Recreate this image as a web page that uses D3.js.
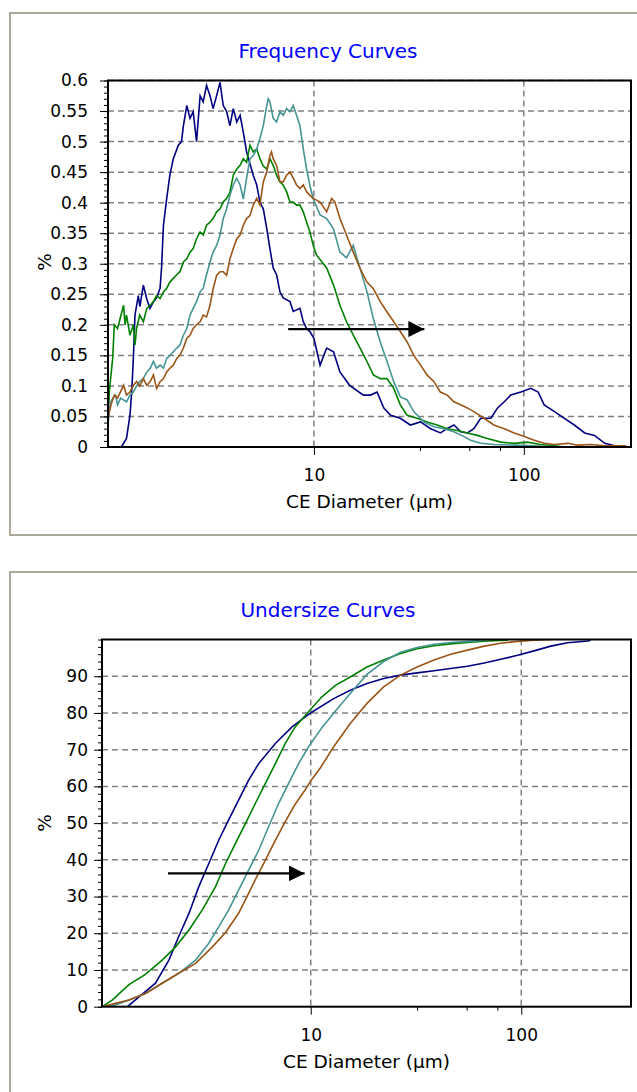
<!doctype html>
<html lang="en">
<head>
  <title>Frequency and Undersize Curves</title>
  <script src="https://d3js.org/d3.v7.min.js"></script>
  <style>
    body {
      margin: 0px;
      background: #ffffff;
    }

    text {
      font-family: "DejaVu Sans", sans-serif;
      fill: #000000;
    }

    .title {
      fill: #0000ff;
      font-size: 20px;
    }

    .axis-label {
      font-size: 18.5px;
    }

    .tick text {
      font-size: 17px;
      font-family: "DejaVu Sans", sans-serif;
    }

    .grid line {
      stroke: #808080;
      stroke-width: 1.5;
      stroke-dasharray: 6,4;
    }
  </style>
</head>
<body>
    <div id="container"></div>

    <script>
        // values, [diameter in um, %]
        var freqNavy = [[1.21,0],[1.28,0.014],[1.33,0.052],[1.355,0.09],[1.38,0.145],[1.405,0.216],[1.457,0.248],[1.483,0.23],[1.54,0.265],[1.60,0.242],[1.656,0.227],[1.72,0.238],[1.78,0.244],[1.85,0.26],[1.88,0.293],[1.92,0.363],[1.99,0.407],[2.06,0.445],[2.14,0.472],[2.26,0.494],[2.34,0.5],[2.39,0.526],[2.48,0.559],[2.57,0.538],[2.66,0.549],[2.76,0.5],[2.87,0.575],[2.97,0.565],[3.08,0.592],[3.20,0.575],[3.31,0.554],[3.44,0.575],[3.57,0.597],[3.70,0.559],[3.84,0.549],[3.98,0.526],[4.13,0.554],[4.29,0.532],[4.45,0.543],[4.61,0.515],[4.78,0.483],[5.14,0.445],[5.34,0.429],[5.53,0.401],[5.74,0.39],[5.96,0.358],[6.17,0.325],[6.40,0.293],[6.64,0.282],[6.89,0.254],[7.14,0.244],[7.69,0.238],[7.97,0.222],[8.58,0.227],[8.90,0.205],[9.23,0.194],[9.57,0.189],[10.0,0.178],[10.7,0.134],[11.5,0.162],[12.4,0.156],[13.3,0.123],[14.8,0.101],[17.2,0.085],[18.6,0.085],[20,0.09],[21.5,0.064],[23.2,0.052],[25.8,0.047],[28.8,0.036],[32.2,0.041],[36,0.03],[40.1,0.023],[43,0.03],[46.5,0.036],[50,0.025],[53.8,0.023],[57.8,0.03],[62.3,0.047],[69.7,0.047],[75,0.064],[80.7,0.074],[86.7,0.085],[96.8,0.09],[108,0.096],[117,0.09],[125,0.069],[140,0.058],[156,0.047],[174,0.036],[195,0.023],[217,0.019],[243,0.006],[271,0.002],[292,0]];

        var freqGreen = [[1.045,0.036],[1.06,0.09],[1.10,0.145],[1.12,0.2],[1.16,0.194],[1.24,0.232],[1.26,0.2],[1.28,0.216],[1.33,0.183],[1.38,0.2],[1.405,0.167],[1.43,0.194],[1.48,0.216],[1.54,0.205],[1.60,0.227],[1.66,0.232],[1.72,0.238],[1.78,0.248],[1.85,0.243],[1.92,0.254],[1.99,0.26],[2.06,0.27],[2.14,0.276],[2.22,0.282],[2.30,0.287],[2.39,0.303],[2.48,0.308],[2.57,0.319],[2.66,0.325],[2.76,0.341],[2.87,0.352],[2.97,0.347],[3.08,0.363],[3.20,0.368],[3.31,0.374],[3.44,0.385],[3.57,0.39],[3.70,0.401],[3.84,0.407],[3.98,0.417],[4.13,0.445],[4.29,0.455],[4.45,0.461],[4.61,0.472],[4.78,0.466],[4.96,0.494],[5.14,0.483],[5.34,0.488],[5.53,0.472],[5.74,0.46],[5.96,0.455],[6.17,0.472],[6.40,0.461],[6.64,0.445],[6.89,0.434],[7.14,0.429],[7.41,0.418],[7.69,0.401],[7.97,0.401],[8.27,0.396],[8.58,0.396],[8.90,0.385],[9.23,0.368],[9.57,0.352],[9.93,0.33],[10.3,0.314],[11.5,0.293],[12.4,0.265],[13.3,0.232],[14.3,0.205],[15.4,0.183],[16.6,0.162],[17.9,0.14],[19.2,0.118],[20.7,0.112],[22.3,0.112],[24,0.096],[25.8,0.069],[27.8,0.052],[31,0.047],[34.6,0.041],[38.7,0.036],[43.2,0.03],[48.1,0.027],[53.8,0.023],[60,0.019],[67,0.014],[77.7,0.008],[90,0.006],[104,0.008],[120,0.004],[140,0.002],[156,0]];

        var freqTeal = [[1.045,0.031],[1.06,0.069],[1.10,0.08],[1.135,0.085],[1.16,0.069],[1.20,0.08],[1.28,0.074],[1.33,0.085],[1.38,0.09],[1.43,0.1],[1.48,0.107],[1.54,0.112],[1.60,0.123],[1.66,0.129],[1.72,0.14],[1.78,0.129],[1.85,0.134],[1.92,0.129],[1.99,0.145],[2.06,0.15],[2.14,0.156],[2.22,0.162],[2.30,0.167],[2.39,0.183],[2.48,0.194],[2.57,0.216],[2.66,0.227],[2.76,0.238],[2.87,0.254],[2.97,0.26],[3.08,0.282],[3.20,0.303],[3.31,0.319],[3.44,0.33],[3.57,0.347],[3.70,0.374],[3.84,0.39],[3.98,0.412],[4.13,0.429],[4.29,0.44],[4.45,0.429],[4.61,0.406],[4.78,0.44],[4.96,0.472],[5.14,0.477],[5.34,0.488],[5.53,0.505],[5.74,0.526],[5.96,0.559],[6.06,0.57],[6.17,0.565],[6.40,0.538],[6.64,0.532],[6.89,0.549],[7.14,0.543],[7.41,0.554],[7.69,0.549],[7.97,0.559],[8.27,0.543],[8.58,0.526],[8.90,0.488],[9.23,0.455],[9.57,0.428],[9.93,0.406],[10.7,0.38],[11.5,0.374],[12.4,0.357],[13.3,0.319],[14.3,0.31],[15.4,0.33],[16.6,0.292],[17.9,0.254],[19.2,0.21],[20.7,0.172],[22.3,0.14],[24,0.107],[25.8,0.082],[27.8,0.077],[29.9,0.058],[33.4,0.041],[37.3,0.033],[41.6,0.03],[46.4,0.025],[51.9,0.017],[55.8,0.011],[62.4,0.006],[72,0.004],[90,0.003],[112,0.002],[140,0]];

        var freqBrown = [[1.045,0.047],[1.08,0.069],[1.12,0.085],[1.16,0.08],[1.24,0.101],[1.28,0.085],[1.33,0.09],[1.38,0.101],[1.43,0.107],[1.48,0.1],[1.54,0.112],[1.60,0.101],[1.66,0.107],[1.72,0.118],[1.78,0.096],[1.85,0.107],[1.92,0.112],[1.99,0.123],[2.06,0.129],[2.14,0.134],[2.22,0.145],[2.30,0.15],[2.39,0.162],[2.48,0.178],[2.57,0.183],[2.66,0.194],[2.76,0.2],[2.87,0.205],[2.97,0.216],[3.08,0.213],[3.20,0.232],[3.31,0.259],[3.44,0.281],[3.57,0.287],[3.70,0.287],[3.84,0.281],[3.98,0.308],[4.13,0.325],[4.29,0.341],[4.45,0.347],[4.61,0.363],[4.78,0.374],[4.96,0.379],[5.14,0.396],[5.34,0.407],[5.53,0.396],[5.74,0.434],[5.96,0.45],[6.17,0.477],[6.28,0.483],[6.40,0.472],[6.64,0.461],[6.89,0.434],[7.14,0.434],[7.41,0.445],[7.69,0.45],[7.97,0.44],[8.27,0.429],[8.58,0.423],[8.90,0.429],[9.23,0.418],[9.57,0.412],[9.93,0.407],[10.7,0.401],[11.5,0.385],[12.15,0.407],[12.6,0.401],[13.3,0.374],[14.3,0.347],[15.4,0.319],[16.6,0.292],[17.9,0.27],[19.2,0.259],[20.7,0.238],[22.3,0.221],[24,0.205],[25.8,0.189],[27.8,0.172],[29.9,0.15],[32.2,0.134],[34.6,0.118],[37.3,0.107],[40,0.09],[43.2,0.085],[46.4,0.074],[50,0.069],[53.8,0.064],[57.8,0.058],[64.6,0.047],[72,0.036],[80.6,0.03],[90,0.023],[100.6,0.017],[112,0.011],[125,0.006],[140,0.004],[162,0.006],[180,0.003],[209,0.004],[243,0.002],[292,0.002],[308,0.002]];

        var underNavy = [[1.346,0],[1.53,2.7],[1.83,6.4],[2.12,12.7],[2.36,19.1],[2.64,25.4],[2.94,32.7],[3.28,39],[3.66,45.4],[4.07,50.8],[4.55,56.3],[5.07,61.7],[5.66,66.2],[6.79,71.7],[8.15,76.2],[10.1,80.2],[12.85,83.9],[15.4,86.2],[18.5,88],[22.2,89.4],[26.7,90.3],[32,90.9],[38.5,91.5],[46.2,92.1],[55.5,92.7],[66.7,93.6],[80,94.6],[96,95.7],[115,96.9],[138,98.2],[166,99.1],[207,99.6],[213,99.8]];

        var underGreen = [[1.024,0],[1.14,1.8],[1.37,6],[1.64,8.8],[1.97,12.7],[2.28,16.3],[2.64,20.9],[3.05,26.3],[3.53,32.7],[3.94,39],[4.39,44.5],[4.9,49.9],[5.46,55.4],[6.09,60.8],[6.79,66.2],[7.57,71.7],[8.44,76.2],[9.76,80.3],[11.3,84.4],[13.1,87.5],[15.4,89.8],[18.5,92.5],[22.2,94.4],[26.7,96.2],[32,97.5],[38.5,98.3],[46.2,98.8],[55.5,99.2],[69,99.6],[86,99.8]];

        var underTeal = [[1.024,0],[1.18,0.5],[1.37,1.8],[1.64,3.6],[1.97,6.4],[2.36,9.1],[2.84,12.7],[3.28,17.3],[3.66,21.8],[4.07,26.3],[4.55,31.8],[5.07,37.2],[5.66,42.6],[6.31,49],[7.04,55.4],[7.85,60.8],[8.76,66.2],[9.76,70.8],[11.3,76],[13.1,80.5],[15.4,85.3],[18.5,90.5],[22.2,94],[26.7,96.5],[32,97.8],[38.5,98.7],[46.2,99.2],[55.5,99.5],[66.7,99.8]];

        var underBrown = [[1.024,0],[1.18,0.9],[1.37,1.8],[1.64,3.6],[1.97,6.4],[2.36,9.1],[2.84,11.8],[3.41,16.3],[3.94,20.2],[4.55,25.5],[4.98,30],[5.5,35],[6.1,40],[6.75,45],[7.5,50],[8.4,55],[9.4,59],[10,61.5],[11.1,65],[12.85,70.8],[15.4,77.1],[18.5,82.6],[22.2,87.1],[26.7,90.3],[32,92.5],[38.5,94.4],[46.2,96],[55.5,97.1],[66.7,98.2],[80,99],[96,99.5],[115,99.8],[140,100]];

        var freqYTicks = [0, 0.05, 0.1, 0.15, 0.2, 0.25, 0.3, 0.35, 0.4, 0.45, 0.5, 0.55, 0.6];
        var underYTicks = [0, 10, 20, 30, 40, 50, 60, 70, 80, 90];
        var xTicks = [10, 100];
        var xMinorTicks = [32, 55, 77];

        // arrows: [x start, x tip, y]
        var freqArrow = [7.54, 33.6, 0.193];
        var underArrow = [2.1, 9.35, 36.3];

        var colors = ["#000080", "#008000", "#479494", "#9c5518"];

        var svg = d3.select('div#container').append('svg')
            .attr('width', 637)
            .attr('height', 1092);

        var defs = svg.append('defs');
        defs.append('marker')
            .attr('id', 'head')
            .attr('viewBox', '0 0 10 10')
            .attr('refX', 10)
            .attr('refY', 5)
            .attr('markerUnits', 'userSpaceOnUse')
            .attr('markerWidth', 16)
            .attr('markerHeight', 16)
            .attr('orient', 'auto')
          .append('path')
            .attr('d', 'M0,0 L10,5 L0,10 z')
            .attr('fill', '#000');

        function drawPanel(p) {
            // grey frame of the panel
            svg.append('rect')
                .attr('x', 10)
                .attr('y', p.frameTop)
                .attr('width', 660)
                .attr('height', p.frameHeight)
                .attr('fill', 'none')
                .attr('stroke', '#aca899')
                .attr('stroke-width', 2);

            svg.append('text')
                .attr('class', 'title')
                .attr('x', 328)
                .attr('y', p.titleY)
                .style('text-anchor', 'middle')
                .text(p.title);

            var x = d3.scaleLog().domain(p.xDomain).range([p.left, p.right]);
            var y = d3.scaleLinear().domain(p.yDomain).range([p.bottom, p.top]);

            // grid
            svg.append('g')
                .attr('class', 'grid')
                .selectAll('line.h')
                .data(p.yTicks.slice(1))
                .enter()
                .append('line')
                    .attr('x1', p.left)
                    .attr('x2', p.right)
                    .attr('y1', function (d) { return y(d); })
                    .attr('y2', function (d) { return y(d); });

            svg.append('g')
                .attr('class', 'grid')
                .selectAll('line.v')
                .data(xTicks)
                .enter()
                .append('line')
                    .attr('x1', function (d) { return x(d); })
                    .attr('x2', function (d) { return x(d); })
                    .attr('y1', p.top)
                    .attr('y2', p.bottom);

            // minor ticks
            svg.append('g')
                .attr('transform', 'translate(' + p.left + ',0)')
                .call(d3.axisLeft(y).tickValues(p.yMinor).tickSize(4).tickFormat(''))
                .call(function (g) { g.select('.domain').remove(); });

            svg.append('g')
                .attr('transform', 'translate(0,' + p.bottom + ')')
                .call(d3.axisBottom(x).tickValues(xMinorTicks).tickSize(4).tickFormat(''))
                .call(function (g) { g.select('.domain').remove(); });

            // major ticks and labels
            svg.append('g')
                .attr('transform', 'translate(' + p.left + ',0)')
                .call(d3.axisLeft(y).tickValues(p.yTicks).tickSize(8).tickPadding(p.yPad)
                        .tickFormat(function (d) { return String(+d.toFixed(2)); }))
                .call(function (g) { g.select('.domain').remove(); });

            svg.append('g')
                .attr('transform', 'translate(0,' + p.bottom + ')')
                .call(d3.axisBottom(x).tickValues(xTicks).tickSize(8).tickPadding(14)
                        .tickFormat(d3.format('d')))
                .call(function (g) { g.select('.domain').remove(); });

            svg.selectAll('.tick line').attr('stroke', '#000');

            svg.append('text')
                .attr('class', 'axis-label')
                .attr('x', (p.left + p.right) / 2)
                .attr('y', p.bottom + 61)
                .style('text-anchor', 'middle')
                .text('CE Diameter (µm)');

            svg.append('text')
                .attr('class', 'axis-label')
                .attr('transform', 'rotate(-90)')
                .attr('x', -p.yLabelY)
                .attr('y', 51)
                .style('text-anchor', 'middle')
                .text('%');

            // curves
            svg.append('clipPath')
                .attr('id', p.id)
              .append('rect')
                .attr('x', p.left)
                .attr('y', p.top)
                .attr('width', p.right - p.left)
                .attr('height', p.bottom - p.top);

            var line = d3.line()
                .x(function (d) { return x(d[0]); })
                .y(function (d) { return y(d[1]); });

            svg.append('g')
                .attr('clip-path', 'url(#' + p.id + ')')
                .selectAll('path')
                .data(p.series)
                .enter()
                .append('path')
                    .attr('d', line)
                    .attr('fill', 'none')
                    .attr('stroke', function (d, i) { return colors[i]; })
                    .attr('stroke-width', 1.6);

            // plot border
            svg.append('rect')
                .attr('x', p.left)
                .attr('y', p.top)
                .attr('width', p.right - p.left)
                .attr('height', p.bottom - p.top)
                .attr('fill', 'none')
                .attr('stroke', '#000')
                .attr('stroke-width', 2);

            // arrow
            svg.append('line')
                .attr('x1', x(p.arrow[0]))
                .attr('x2', x(p.arrow[1]))
                .attr('y1', y(p.arrow[2]))
                .attr('y2', y(p.arrow[2]))
                .attr('stroke', '#000')
                .attr('stroke-width', 2.2)
                .attr('marker-end', 'url(#head)');
        }

        drawPanel({
            id: 'clipFreq',
            title: 'Frequency Curves',
            frameTop: 13, frameHeight: 522, titleY: 58,
            left: 108, right: 631, top: 80.5, bottom: 447,
            xDomain: [1.045, 324], yDomain: [0, 0.6],
            yTicks: freqYTicks, yMinor: d3.range(0, 0.6001, 0.01), yPad: 12,
            yLabelY: 262,
            series: [freqNavy, freqGreen, freqTeal, freqBrown],
            arrow: freqArrow
        });

        drawPanel({
            id: 'clipUnder',
            title: 'Undersize Curves',
            frameTop: 572, frameHeight: 560, titleY: 617,
            left: 102, right: 631, top: 639.5, bottom: 1006.7,
            xDomain: [1.02, 332], yDomain: [0, 100],
            yTicks: underYTicks, yMinor: d3.range(0, 100.01, 2), yPad: 6,
            yLabelY: 823,
            series: [underNavy, underGreen, underTeal, underBrown],
            arrow: underArrow
        });
    </script>
</body>
</html>
